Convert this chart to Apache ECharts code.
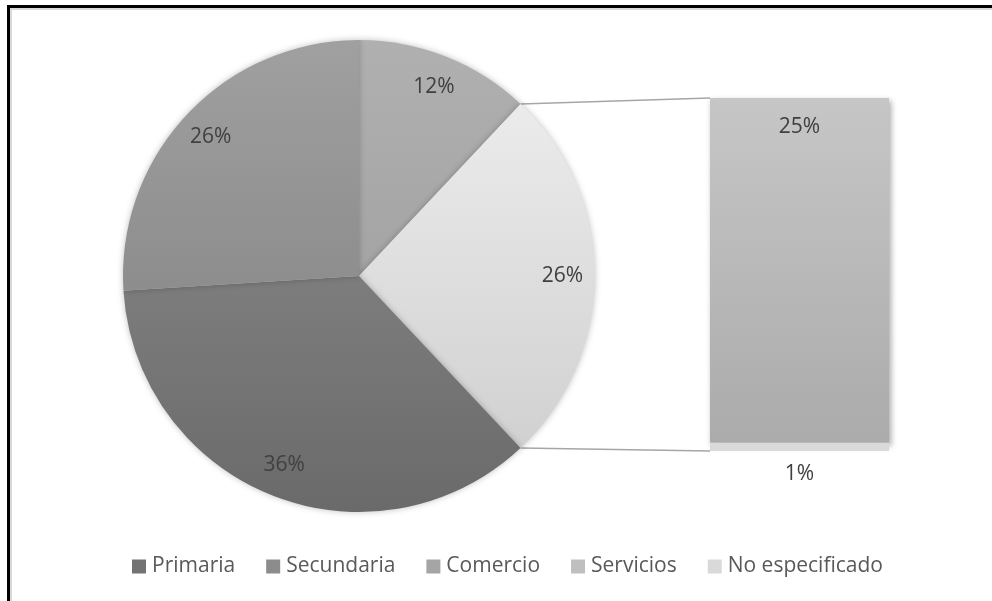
<!DOCTYPE html>
<html><head><meta charset="utf-8">
<script src="https://cdn.jsdelivr.net/npm/echarts@6/dist/echarts.min.js"></script>
<style>html,body{margin:0;padding:0;background:#fff}#c{width:992px;height:601px}</style>
</head><body><div id="c"></div>
<script>
// ---- data ----
const pieNames = ['Comercio', 'Otros', 'Primaria', 'Secundaria'];
const pieValues = [12, 26, 36, 26];
const barNames = ['No especificado', 'Servicios'];
const barValues = [0.6, 25.4];
const legendNames = ['Primaria', 'Secundaria', 'Comercio', 'Servicios', 'No especificado'];

// ---- styles ----
const FONT = 'Open Sans';
const FS = 21;
const PIE_CX = 359, PIE_CY = 276, PIE_R = 236;
function grad(top, bottom) {
  return { type: 'linear', x: 0, y: PIE_CY - PIE_R, x2: 0, y2: PIE_CY + PIE_R, global: true,
    colorStops: [{ offset: 0, color: top }, { offset: 1, color: bottom }] };
}
const pieColors = {
  'Comercio': grad('#b0b0b0', '#989898'),
  'Otros': grad('#f0f0f0', '#cccccc'),
  'Primaria': grad('#909090', '#6a6a6a'),
  'Secundaria': grad('#a0a0a0', '#7c7c7c')
};
const legendColors = {
  'Primaria': '#737373', 'Secundaria': '#8c8c8c', 'Comercio': '#a5a5a5',
  'Servicios': '#bfbfbf', 'No especificado': '#d9d9d9'
};
const barColors = {
  'Servicios': { type: 'linear', x: 0, y: 0, x2: 0, y2: 1,
    colorStops: [{ offset: 0, color: '#c6c6c6' }, { offset: 1, color: '#ababab' }] },
  'No especificado': '#dadada'
};

const chart = echarts.init(document.getElementById('c'), null, { renderer: 'canvas' });
const barTotal = barValues.reduce((a, b) => a + b, 0);

const pieData = pieNames.map((n, i) => ({ name: n, value: pieValues[i], itemStyle: { color: pieColors[n] } }));
const pieLabelData = pieNames.map((n, i) => ({ name: n, value: pieValues[i] }));

const option = {
  animation: false,
  backgroundColor: '#fff',
  legend: {
    left: 127, top: 551,
    itemWidth: 14, itemHeight: 14, itemGap: 31,
    icon: 'rect',
    textStyle: { fontFamily: FONT, fontSize: FS, color: '#595959', padding: [0, 0, 0, 1] },
    data: legendNames.map(n => ({ name: n, itemStyle: { color: legendColors[n] } })),
    selectedMode: false
  },
  grid: { left: 710, top: 98, width: 179, height: 353 },
  xAxis: { type: 'category', data: ['bar'], show: false },
  yAxis: { type: 'value', min: 0, max: barTotal, show: false },
  series: [
    {
      type: 'pie', name: 'pie', center: [PIE_CX, PIE_CY], radius: [0, PIE_R],
      startAngle: 90, clockwise: true, label: { show: false }, labelLine: { show: false },
      itemStyle: { borderWidth: 0, shadowBlur: 6, shadowColor: 'rgba(0,0,0,0.25)' },
      emphasis: { disabled: true },
      data: pieData, z: 2
    },
    {
      type: 'pie', name: 'pieLabels', center: [PIE_CX, PIE_CY], radius: [165, PIE_R],
      startAngle: 90, clockwise: true, silent: true, legendHoverLink: false,
      itemStyle: { color: 'rgba(0,0,0,0)' },
      label: { show: true, position: 'inside', fontFamily: FONT, fontSize: FS, color: '#404040',
        formatter: p => Math.round(p.value) + '%' },
      labelLine: { show: false },
      emphasis: { disabled: true },
      data: pieLabelData, z: 3
    },
    {
      type: 'bar', name: 'No especificado', stack: 's', barWidth: '100%', z: 4,
      data: [barValues[0]],
      itemStyle: { color: barColors['No especificado'] },
      label: { show: true, position: 'bottom', distance: 13, fontFamily: FONT, fontSize: FS, color: '#404040',
        formatter: p => Math.round(p.value) + '%' },
      emphasis: { disabled: true }
    },
    {
      type: 'bar', name: 'Servicios', stack: 's', barWidth: '100%', z: 3,
      data: [barValues[1]],
      itemStyle: { color: barColors['Servicios'], shadowBlur: 6, shadowOffsetX: 2, shadowOffsetY: 3, shadowColor: 'rgba(0,0,0,0.35)' },
      label: { show: true, position: 'insideTop', distance: 19, fontFamily: FONT, fontSize: FS, color: '#404040',
        formatter: p => Math.round(p.value) + '%' },
      emphasis: { disabled: true }
    }
  ]
};
chart.setOption(option);

// connector lines from the "Otros" slice edges to the bar
const pieTotal = pieValues.reduce((a, b) => a + b, 0);
const idx = pieNames.indexOf('Otros');
const before = pieValues.slice(0, idx).reduce((a, b) => a + b, 0);
const a1 = before / pieTotal * 2 * Math.PI;
const a2 = (before + pieValues[idx]) / pieTotal * 2 * Math.PI;
const p1 = [PIE_CX + PIE_R * Math.sin(a1), PIE_CY - PIE_R * Math.cos(a1)];
const p2 = [PIE_CX + PIE_R * Math.sin(a2), PIE_CY - PIE_R * Math.cos(a2)];
const topPt = chart.convertToPixel({ gridIndex: 0 }, [0, barTotal]);
const botPt = chart.convertToPixel({ gridIndex: 0 }, [0, 0]);
const barLeft = 710;

chart.setOption({
  graphic: [
    { type: 'line', shape: { x1: p1[0], y1: p1[1], x2: barLeft, y2: topPt[1] }, style: { stroke: '#a6a6a6', lineWidth: 1.5 }, z: 1 },
    { type: 'line', shape: { x1: p2[0], y1: p2[1], x2: barLeft, y2: botPt[1] }, style: { stroke: '#a6a6a6', lineWidth: 1.5 }, z: 1 },
    // frame
    { type: 'rect', shape: { x: 10, y: 8, width: 982, height: 2 }, style: { fill: '#d9d9d9' }, z: 0 },
    { type: 'rect', shape: { x: 10, y: 8, width: 2, height: 593 }, style: { fill: '#d9d9d9' }, z: 0 },
    { type: 'rect', shape: { x: 7, y: 5, width: 985, height: 3 }, style: { fill: '#000' }, z: 0 },
    { type: 'rect', shape: { x: 7, y: 5, width: 3, height: 596 }, style: { fill: '#000' }, z: 0 }
  ]
});
</script>
</body></html>
